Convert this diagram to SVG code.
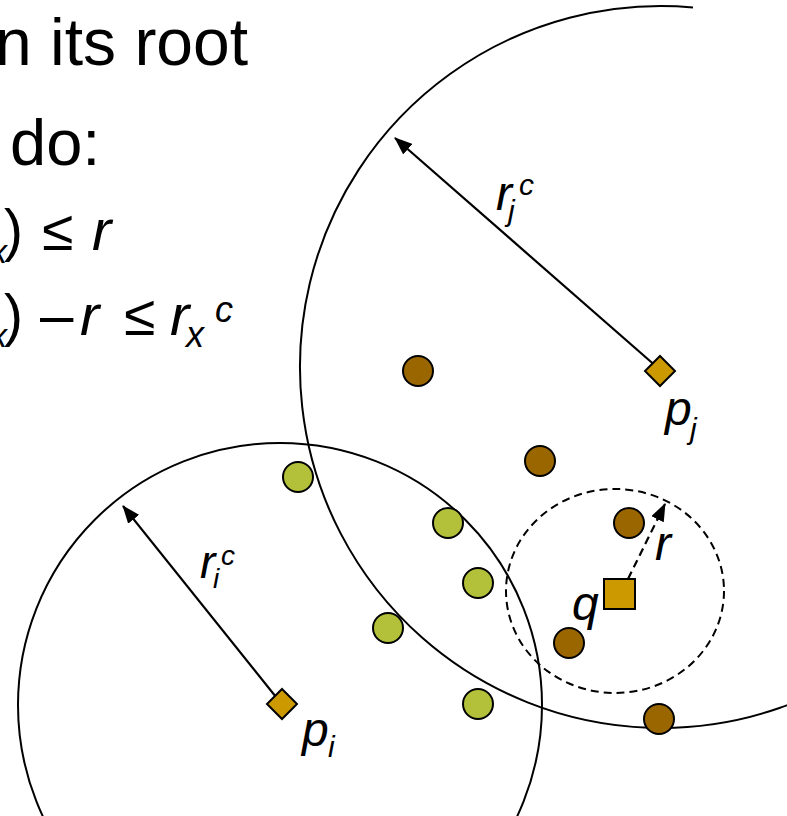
<svg xmlns="http://www.w3.org/2000/svg" width="787" height="816" viewBox="0 0 787 816">
<style>
.t{font-family:"Liberation Sans",Arial,sans-serif;fill:#000}
.it{font-style:italic}
.big{fill:none;stroke:#000;stroke-width:2}
.dash{fill:none;stroke:#000;stroke-width:2;stroke-dasharray:8 5}
.arr{stroke:#000;stroke-width:2.2;fill:none}
.g{fill:#B2C03A;stroke:#000;stroke-width:2}
.b{fill:#996600;stroke:#000;stroke-width:2}
.c{fill:#CC9900;stroke:#000;stroke-width:2}
</style>
<defs>
<marker id="ah" markerUnits="userSpaceOnUse" markerWidth="18" markerHeight="14" refX="17" refY="7" orient="auto">
<path d="M0,0 L18,7 L0,14 z" fill="#000"/>
</marker>
</defs>
<rect width="787" height="816" fill="#fff"/>
<g id="text-block">
<text class="t" x="-5" y="65" font-size="66">n its root</text>
<text class="t" x="10" y="165" font-size="65">do:</text>
<text class="t it" x="-10" y="263" font-size="34">x</text>
<text class="t" x="4" y="250" font-size="57">)</text>
<text class="t" x="42" y="250" font-size="57">≤</text>
<text class="t it" x="92" y="250" font-size="58">r</text>
<text class="t it" x="-10" y="347" font-size="34">x</text>
<text class="t" x="4" y="335" font-size="57">)</text>
<text class="t" x="40" y="335" font-size="60">–</text>
<text class="t it" x="80" y="335" font-size="58">r</text>
<text class="t" x="124" y="335" font-size="57">≤</text>
<text class="t it" x="170" y="335" font-size="58">r</text>
<text class="t it" x="186" y="347" font-size="36">x</text>
<text class="t it" x="215" y="322" font-size="36">c</text>
</g>
<g id="circle-j"><path class="big" d="M693,7.4 A361,361 0 1 0 973.6,547.5"/></g>
<g id="circle-i"><circle class="big" cx="280" cy="705" r="262"/></g>
<g id="query-range"><ellipse class="dash" cx="615" cy="591" rx="109" ry="102"/></g>
<g id="connectors">
<line class="arr" x1="658" y1="368" x2="395" y2="138" marker-end="url(#ah)"/>
<line class="arr" x1="280" y1="702" x2="123" y2="506" marker-end="url(#ah)"/>
<line class="arr" x1="628" y1="579" x2="665" y2="504" stroke-dasharray="8 5" marker-end="url(#ah)"/>
</g>
<g id="green-points">
<circle class="g" cx="298" cy="477" r="15"/>
<circle class="g" cx="448" cy="523" r="15"/>
<circle class="g" cx="478" cy="583" r="15"/>
<circle class="g" cx="388" cy="628" r="15"/>
<circle class="g" cx="478" cy="704" r="15"/>
</g>
<g id="brown-points">
<circle class="b" cx="418" cy="371" r="15"/>
<circle class="b" cx="540" cy="461" r="15"/>
<circle class="b" cx="629" cy="523" r="15"/>
<circle class="b" cx="569" cy="643" r="15"/>
<circle class="b" cx="659" cy="719" r="15"/>
</g>
<g id="pj"><path class="c" d="M660,356 L675,371 L660,386 L645,371 z"/>
<text class="t it" x="665" y="425" font-size="48">p</text>
<text class="t it" x="690" y="439" font-size="30">j</text></g>
<g id="pi"><path class="c" d="M282,689 L297,704 L282,719 L267,704 z"/>
<text class="t it" x="302" y="746" font-size="48">p</text>
<text class="t it" x="328" y="757" font-size="30">i</text></g>
<g id="q"><rect class="c" x="604" y="579" width="31" height="30"/>
<text class="t it" x="572" y="620" font-size="48">q</text></g>
<g id="label-rjc">
<text class="t it" x="496" y="210" font-size="48">r</text>
<text class="t it" x="508" y="221" font-size="30">j</text>
<text class="t it" x="519" y="195" font-size="30">c</text>
</g>
<g id="label-ric">
<text class="t it" x="200" y="578" font-size="46">r</text>
<text class="t it" x="213" y="588" font-size="28">i</text>
<text class="t it" x="221" y="565" font-size="28">c</text>
</g>
<g id="label-r"><text class="t it" x="655" y="560" font-size="48">r</text></g>
</svg>
